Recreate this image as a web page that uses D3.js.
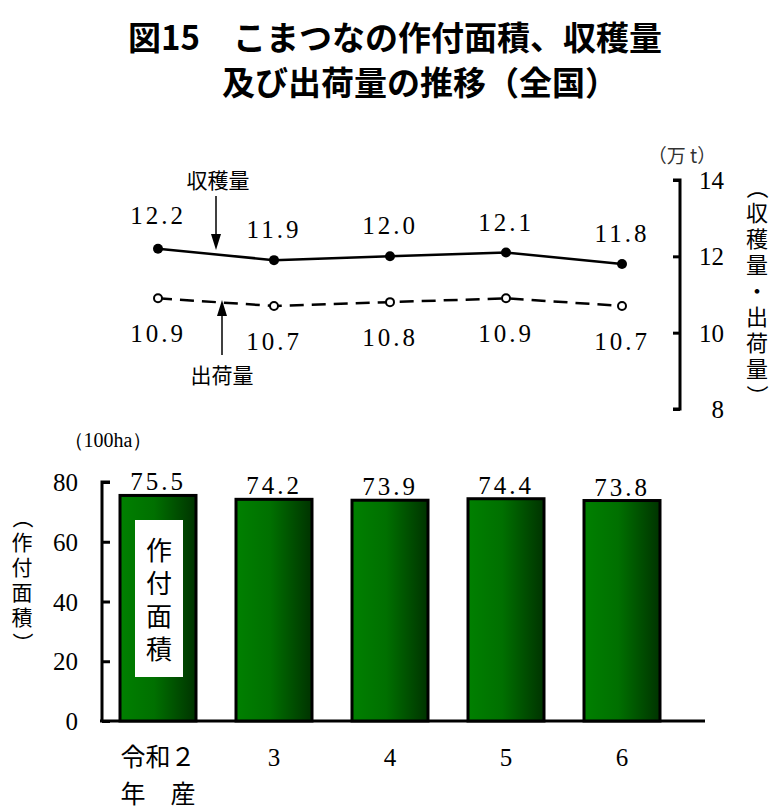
<!DOCTYPE html><html><head><meta charset="utf-8"><script src="https://cdn.jsdelivr.net/npm/d3@7"></script>
<style>body{margin:0;background:#fff}</style></head><body><svg id="c" width="778" height="811"></svg>
<script>
const categories=["令和２","3","4","5","6"];
const harvest=[12.2,11.9,12.0,12.1,11.8];
const shipment=[10.9,10.7,10.8,10.9,10.7];
const area=[75.5,74.2,73.9,74.4,73.8];
const rightTicks=[8,10,12,14];
const leftTicks=[0,20,40,60,80];
const svg=d3.select("#c");
const jp="'Noto Sans CJK JP'",serif="'Liberation Serif','DejaVu Serif',serif";
const x=d3.scalePoint().domain(categories).range([158,622]);
const yT=d3.scaleLinear().domain([8,14]).range([409,180]);
const yB=d3.scaleLinear().domain([0,80]).range([721,482]);
svg.append("text").attr("x",395).attr("y",50).attr("text-anchor","middle").attr("font-family",jp).attr("font-weight","bold").attr("font-size",33).text("図15　こまつなの作付面積、収穫量");
svg.append("text").attr("x",420).attr("y",95).attr("text-anchor","middle").attr("font-family",jp).attr("font-weight","bold").attr("font-size",33).text("及び出荷量の推移（全国）");
const g=svg.append("defs").append("linearGradient").attr("id","gr");
g.append("stop").attr("offset","0").attr("stop-color","#008000");
g.append("stop").attr("offset","0.45").attr("stop-color","#007000");
g.append("stop").attr("offset","1").attr("stop-color","#003300");
const ra=svg.append("g").attr("transform","translate(680,0)").call(d3.axisLeft(yT).tickValues(rightTicks).tickSize(7).tickFormat(""));
ra.selectAll("path,line").attr("stroke","#000").attr("stroke-width",3);
ra.select("path").attr("d","M-7,180H0V409H-7");
svg.selectAll(".rt").data(rightTicks).join("text").attr("x",724).attr("y",d=>yT(d)+9).attr("text-anchor","end").attr("font-family",serif).attr("font-size",25).text(d=>d);
svg.append("text").attr("x",682).attr("y",163).attr("text-anchor","middle").attr("font-family",jp).attr("font-size",19).attr("fill","#333").text("（万 t）");
const rl="（収穫量・出荷量）".split("");
svg.selectAll(".rl").data(rl).join("text").attr("x",757).attr("y",(d,i)=>195+i*26).attr("text-anchor","middle").attr("font-family",jp).attr("font-size",22)
 .attr("transform",(d,i)=>(d=="（"||d=="）")?`rotate(90,757,${188+i*26})`:null).text(d=>d);
const ln=d3.line().x((d,i)=>x(categories[i])).y(d=>yT(d));
svg.append("path").attr("d",ln(harvest)).attr("fill","none").attr("stroke","#000").attr("stroke-width",2.5);
svg.append("path").attr("d",ln(shipment)).attr("fill","none").attr("stroke","#000").attr("stroke-width",2.5).attr("stroke-dasharray","14,8");
svg.selectAll(".hp").data(harvest).join("circle").attr("cx",(d,i)=>x(categories[i])).attr("cy",d=>yT(d)).attr("r",5).attr("fill","#000");
svg.selectAll(".sp").data(shipment).join("circle").attr("cx",(d,i)=>x(categories[i])).attr("cy",d=>yT(d)).attr("r",4).attr("fill","#fff").attr("stroke","#000").attr("stroke-width",2);
svg.selectAll(".hl").data(harvest).join("text").attr("x",(d,i)=>x(categories[i])).attr("y",(d,i)=>yT(d)-(i==0?25:22)).attr("text-anchor","middle").attr("font-family",serif).attr("font-size",25).attr("letter-spacing",3).text(d=>d.toFixed(1));
svg.selectAll(".sl").data(shipment).join("text").attr("x",(d,i)=>x(categories[i])).attr("y",d=>yT(d)+44).attr("text-anchor","middle").attr("font-family",serif).attr("font-size",25).attr("letter-spacing",3).text(d=>d.toFixed(1));
svg.append("text").attr("x",218).attr("y",188).attr("text-anchor","middle").attr("font-family",jp).attr("font-size",21).text("収穫量");
svg.append("text").attr("x",222).attr("y",383).attr("text-anchor","middle").attr("font-family",jp).attr("font-size",21).text("出荷量");
svg.append("line").attr("x1",216).attr("y1",196).attr("x2",216).attr("y2",246).attr("stroke","#000").attr("stroke-width",1.5);
svg.append("path").attr("d","M211,234L216,250L221,234Z");
svg.append("line").attr("x1",222).attr("y1",355).attr("x2",222).attr("y2",306).attr("stroke","#000").attr("stroke-width",1.5);
svg.append("path").attr("d","M217,316L222,300L227,316Z");
const la=svg.append("g").attr("transform","translate(102,0)").call(d3.axisLeft(yB).tickValues(leftTicks).tickSize(-8).tickFormat(""));
la.selectAll("path,line").attr("stroke","#000").attr("stroke-width",3);
la.select("path").attr("d","M8,482H0V721");
svg.append("line").attr("x1",100).attr("x2",705).attr("y1",721).attr("y2",721).attr("stroke","#000").attr("stroke-width",3);
svg.selectAll(".lt").data(leftTicks).join("text").attr("x",78).attr("y",d=>yB(d)+9).attr("text-anchor","end").attr("font-family",serif).attr("font-size",25).text(d=>d);
svg.append("text").attr("x",108).attr("y",447).attr("text-anchor","middle").attr("font-family",serif).attr("font-size",20).text("（100ha）");
const ll="（作付面積）".split("");
svg.selectAll(".ll").data(ll).join("text").attr("x",22).attr("y",(d,i)=>525+i*25).attr("text-anchor","middle").attr("font-family",jp).attr("font-size",21)
 .attr("transform",(d,i)=>(d=="（"||d=="）")?`rotate(90,22,${518+i*25})`:null).text(d=>d);
const bw=76;
svg.selectAll(".bar").data(area).join("rect").attr("x",(d,i)=>x(categories[i])-bw/2).attr("y",d=>yB(d)).attr("width",bw).attr("height",d=>yB(0)-yB(d)).attr("fill","url(#gr)").attr("stroke","#000").attr("stroke-width",3);
svg.selectAll(".bl").data(area).join("text").attr("x",(d,i)=>x(categories[i])).attr("y",d=>yB(d)-5).attr("text-anchor","middle").attr("font-family",serif).attr("font-size",25).attr("letter-spacing",3).text(d=>d.toFixed(1));
svg.append("rect").attr("x",135).attr("y",520).attr("width",48).attr("height",157).attr("fill","#fff");
"作付面積".split("").forEach((c,i)=>svg.append("text").attr("x",159).attr("y",560+i*33).attr("text-anchor","middle").attr("font-family",jp).attr("font-size",26).text(c));
svg.selectAll(".xl").data(categories).join("text").attr("x",d=>x(d)).attr("y",766).attr("text-anchor","middle").attr("font-family",d=>d.length>1?jp:serif).attr("font-size",25).text(d=>d);
svg.append("text").attr("x",158).attr("y",803).attr("text-anchor","middle").attr("font-family",jp).attr("font-size",25).text("年　産");
</script></body></html>
